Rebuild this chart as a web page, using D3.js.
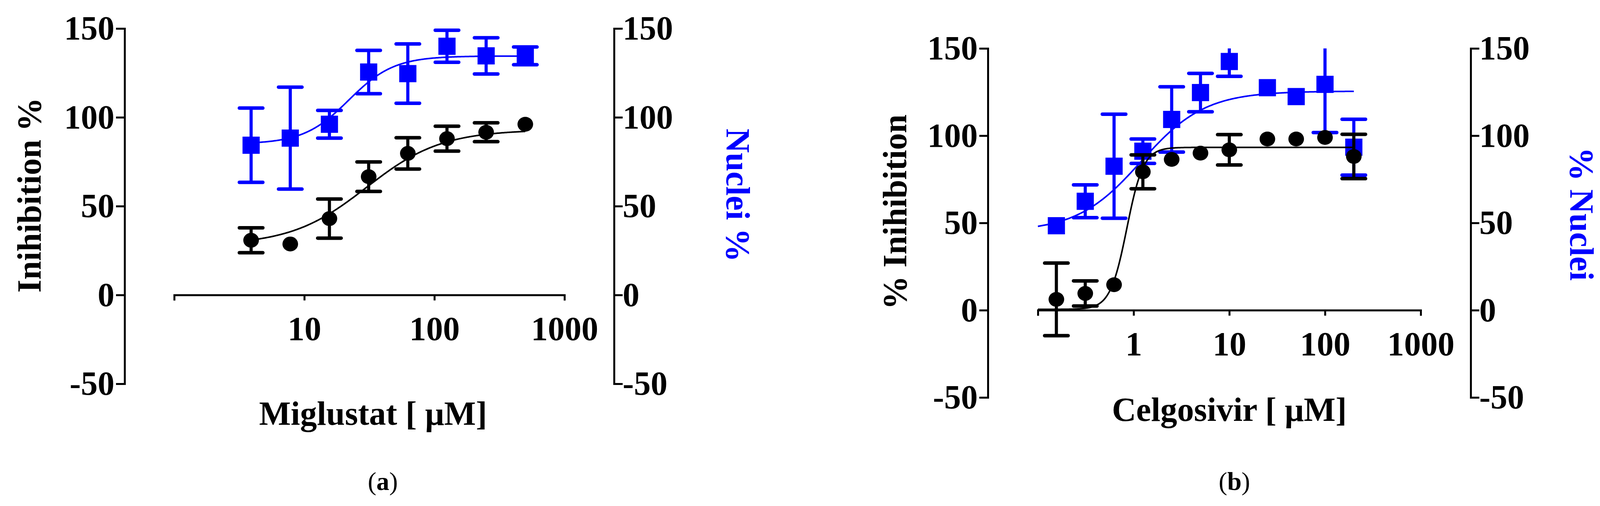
<!DOCTYPE html>
<html>
<head>
<meta charset="UTF-8">
<title>Miglustat / Celgosivir</title>
<style>
  body { margin: 0; background: #fff; }
  svg text { font-family: "Liberation Serif", "DejaVu Serif", serif; }
</style>
</head>
<body>
<svg id="chart" width="4102" height="1296"></svg>
<script src="https://d3js.org/d3.v7.min.js"></script>
<script>
// panel (a) miglustat
const aConc = [3.9, 7.8, 15.6, 31.25, 62.5, 125, 250, 500];
const aInhib = [30.8, 28.7, 43, 66.6, 79.7, 88, 91.6, 96.1];
const aInhibErr = [7, 0, 11, 8.3, 8.8, 7, 5.3, 0];
const aNuclei = [84.3, 88.3, 96.1, 125.5, 124.6, 140, 134.6, 134.6];
const aNucleiErr = [20.9, 28.7, 7.8, 12.2, 16.7, 9, 10.2, 5];
// fit parameters [bottom, top, ec50, hill]
const aInhibFit = [28, 93, 30, 1.5];
const aNucleiFit = [85, 134.5, 22, 2.5];

// panel (b) celgosivir
const bConc = [0.156, 0.3125, 0.625, 1.25, 2.5, 5, 10, 25, 50, 100, 200];
const bInhib = [6.2, 9.6, 14.6, 79.3, 86.4, 90, 91.9, 98.1, 98.1, 99, 88.1];
const bInhibErr = [20.8, 7.2, 0, 9.7, 0, 0, 8.7, 0, 0, 0, 12.7];
const bNuclei = [48.4, 62.4, 82.5, 91.1, 109.3, 124.7, 142.5, 127.5, 122.4, 129.4, 93.4];
const bNucleiErr = [0, 9.4, 29.8, 7, 18.7, 11, 8.5, 0, 0, 27.6, 16];
const bInhibFit = [0.5, 93.3, 0.85, 5];
const bNucleiFit = [45, 125.5, 1.2, 1.3];

const yTicks = [-50, 0, 50, 100, 150];

const svg = d3.select("#chart");

function panel(o) {
  const g = svg.append("g");
  const x = d3.scaleLog().domain(o.xDomain).range([o.x0, o.x1]);
  const y = d3.scaleLinear().domain([-50, 150]).range([o.yBot, o.yTop]);

  // left axis
  const left = g.append("g").attr("transform", `translate(${o.left},0)`)
    .call(d3.axisLeft(y).tickValues(yTicks).tickSize(22).tickPadding(4).tickFormat(d => String(d)));
  // right axis
  const right = g.append("g").attr("transform", `translate(${o.right},0)`)
    .call(d3.axisRight(y).tickValues(yTicks).tickSize(22).tickPadding(0).tickFormat(d => String(d)));
  // x axis at y = 0
  const xa = g.append("g").attr("transform", `translate(0,${y(0)})`)
    .call(d3.axisBottom(x).tickValues(o.xTicks).tickSize(14).tickPadding(40)
      .tickFormat(d => d < o.firstLabel ? "" : String(d)));
  [left, right, xa].forEach(a => {
    a.select(".domain").attr("stroke", "#000").attr("stroke-width", 5);
    a.selectAll(".tick line").attr("stroke", "#000").attr("stroke-width", 5);
    a.selectAll("text").attr("fill", "#000").style("font-size", "86px").style("font-weight", "bold");
  });

  const logistic = p => c => p[0] + (p[1] - p[0]) / (1 + Math.pow(p[2] / c, p[3]));
  const line = f => d3.line().x(c => x(c)).y(c => y(f(c)));
  const grid = d3.range(0, 301).map(i => Math.pow(10, Math.log10(o.curve[0]) + i / 300 * (Math.log10(o.curve[1]) - Math.log10(o.curve[0]))));

  function series(conc, vals, errs, fit, color, shape) {
    g.append("path").datum(grid).attr("d", line(logistic(fit)))
      .attr("fill", "none").attr("stroke", color).attr("stroke-width", 4);
    conc.forEach((c, i) => {
      if (errs[i] > 0) {
        const top = Math.min(150, vals[i] + errs[i]);
        const bot = vals[i] - errs[i];
        g.append("line").attr("x1", x(c)).attr("x2", x(c)).attr("y1", y(top)).attr("y2", y(bot))
          .attr("stroke", color).attr("stroke-width", 8);
        [vals[i] + errs[i], bot].forEach(v => {
          if (v > 150) return;
          g.append("line").attr("x1", x(c) - 30).attr("x2", x(c) + 30).attr("y1", y(v)).attr("y2", y(v))
            .attr("stroke", color).attr("stroke-width", 9).attr("stroke-linecap", "round");
        });
      }
      if (shape === "circle") {
        g.append("ellipse").attr("cx", x(c)).attr("cy", y(vals[i])).attr("rx", 20).attr("ry", 19).attr("fill", color);
      } else {
        g.append("rect").attr("x", x(c) - 22).attr("y", y(vals[i]) - 22).attr("width", 44).attr("height", 44).attr("fill", color);
      }
    });
  }
  series(o.conc, o.nuclei, o.nucleiErr, o.nucleiFit, "#0000ff", "square");
  series(o.conc, o.inhib, o.inhibErr, o.inhibFit, "#000", "circle");

  g.append("text").attr("transform", `translate(${o.yLabelX},${o.yLabelY}) rotate(-90)`)
    .attr("text-anchor", "middle").attr("dominant-baseline", "middle")
    .style("font-size", "86px").style("font-weight", "bold").text(o.yLabel);
  g.append("text").attr("transform", `translate(${o.rLabelX},${o.rLabelY}) rotate(90)`)
    .attr("text-anchor", "middle").attr("dominant-baseline", "middle").attr("fill", "#0000ff")
    .style("font-size", "86px").style("font-weight", "bold").text(o.rLabel);
  g.append("text").attr("x", o.xLabelX).attr("y", o.xLabelY).attr("text-anchor", "middle")
    .style("font-size", "86px").style("font-weight", "bold").text(o.xLabel);
  const cap = g.append("text").attr("x", o.capX).attr("y", 1255).attr("text-anchor", "middle").style("font-size", "66px");
  cap.append("tspan").text("(");
  cap.append("tspan").style("font-weight", "bold").text(o.cap);
  cap.append("tspan").text(")");
}

panel({
  xDomain: [1, 1000], x0: 446, x1: 1445, xTicks: [1, 10, 100, 1000], firstLabel: 10,
  yTop: 73, yBot: 983, left: 319, right: 1572, curve: [3.9, 500],
  conc: aConc, inhib: aInhib, inhibErr: aInhibErr, nuclei: aNuclei, nucleiErr: aNucleiErr,
  inhibFit: aInhibFit, nucleiFit: aNucleiFit,
  yLabel: "Inihibition %", yLabelX: 84, yLabelY: 500,
  rLabel: "Nuclei %", rLabelX: 1880, rLabelY: 500,
  xLabel: "Miglustat [ μM]", xLabelX: 955, xLabelY: 1088, cap: "a", capX: 980
});

panel({
  xDomain: [0.1, 1000], x0: 2657, x1: 3637, xTicks: [0.1, 1, 10, 100, 1000], firstLabel: 1,
  yTop: 124, yBot: 1018, left: 2529, right: 3765, curve: [0.1, 200],
  conc: bConc, inhib: bInhib, inhibErr: bInhibErr, nuclei: bNuclei, nucleiErr: bNucleiErr,
  inhibFit: bInhibFit, nucleiFit: bNucleiFit,
  yLabel: "% Inihibition", yLabelX: 2300, yLabelY: 543,
  rLabel: "% Nuclei", rLabelX: 4040, rLabelY: 548,
  xLabel: "Celgosivir [ μM]", xLabelX: 3147, xLabelY: 1078, cap: "b", capX: 3160
});
</script>
</body>
</html>
